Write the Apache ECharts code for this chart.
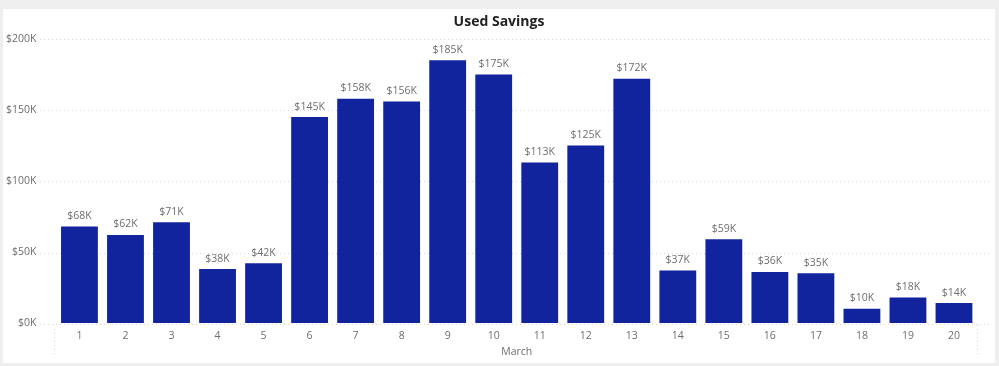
<!DOCTYPE html>
<html>
<head>
<meta charset="utf-8">
<script src="https://cdn.jsdelivr.net/npm/echarts@6/dist/echarts.min.js"></script>
<style>
  html, body { margin: 0; padding: 0; background: #efefef; width: 999px; height: 366px; overflow: hidden; }
  #chart { position: absolute; left: 3px; top: 9px; width: 992px; height: 354px; background: #ffffff; }
</style>
</head>
<body>
<div id="chart"></div>
<script>
const categories = ['1','2','3','4','5','6','7','8','9','10','11','12','13','14','15','16','17','18','19','20'];
const usedSavings = [68000, 62000, 71000, 38000, 42000, 145000, 158000, 156000, 185000, 175000, 113000, 125000, 172000, 37000, 59000, 36000, 35000, 10000, 18000, 14000];
const yTicks = [0, 50000, 100000, 150000, 200000];
const titleText = 'Used Savings';
const xAxisName = 'March';

const FONT = '"Open Sans", "Noto Sans", sans-serif';
const GRID_TOP = 30, GRID_BOTTOM = 39, GRID_LEFT = 51, GRID_RIGHT = 18;
const W = 992, H = 354;
const fmtK = v => '$' + Math.round(v / 1000) + 'K';

const chart = echarts.init(document.getElementById('chart'), null, { renderer: 'canvas' });
chart.setOption({
  backgroundColor: '#ffffff',
  animation: false,
  title: {
    text: titleText,
    left: 'center',
    top: 1,
    textStyle: { fontFamily: FONT, fontSize: 14, fontWeight: 'bold', color: '#222222' }
  },
  grid: [
    { left: GRID_LEFT, right: GRID_RIGHT, top: GRID_TOP, bottom: GRID_BOTTOM },
    { left: 37, right: 3, top: GRID_TOP, bottom: GRID_BOTTOM }
  ],
  xAxis: [
    {
      type: 'category',
      gridIndex: 0,
      data: categories,
      name: xAxisName,
      nameLocation: 'middle',
      nameGap: 24,
      nameTextStyle: { fontFamily: FONT, fontSize: 10.5, color: '#6e6e6e' },
      axisLine: { show: false },
      axisTick: { show: false },
      axisLabel: { fontFamily: FONT, fontSize: 10.5, color: '#6e6e6e', margin: 8 }
    },
    {
      type: 'value',
      gridIndex: 1,
      show: false,
      min: 0, max: 1
    }
  ],
  yAxis: [
    {
      type: 'value',
      gridIndex: 0,
      min: yTicks[0],
      max: yTicks[yTicks.length - 1],
      interval: yTicks[1] - yTicks[0],
      axisLine: { show: false },
      axisTick: { show: false },
      splitLine: { show: false },
      axisLabel: { fontFamily: FONT, fontSize: 10.5, color: '#6e6e6e', margin: 20, formatter: fmtK }
    },
    {
      type: 'value',
      gridIndex: 1,
      min: yTicks[0],
      max: yTicks[yTicks.length - 1],
      interval: yTicks[1] - yTicks[0],
      axisLine: { show: false },
      axisTick: { show: false },
      axisLabel: { show: false },
      splitLine: { show: true, lineStyle: { color: '#d6d6d6', type: [1, 3], width: 1 } }
    }
  ],
  series: [
    {
      type: 'bar',
      xAxisIndex: 0,
      yAxisIndex: 0,
      data: usedSavings,
      barCategoryGap: '20%',
      itemStyle: { color: '#12239E' },
      label: {
        show: true,
        position: 'top',
        distance: 5,
        fontFamily: FONT,
        fontSize: 10.5,
        color: '#6e6e6e',
        formatter: p => fmtK(p.value)
      }
    }
  ],
  graphic: [
    {
      type: 'line',
      shape: { x1: GRID_LEFT + 0.5, y1: H - GRID_BOTTOM + 1, x2: GRID_LEFT + 0.5, y2: H - 8 },
      style: { stroke: '#d6d6d6', lineWidth: 1, lineDash: [1, 3] }
    },
    {
      type: 'line',
      shape: { x1: W - GRID_RIGHT + 0.5, y1: H - GRID_BOTTOM + 1, x2: W - GRID_RIGHT + 0.5, y2: H - 8 },
      style: { stroke: '#d6d6d6', lineWidth: 1, lineDash: [1, 3] }
    }
  ]
});
</script>
</body>
</html>
